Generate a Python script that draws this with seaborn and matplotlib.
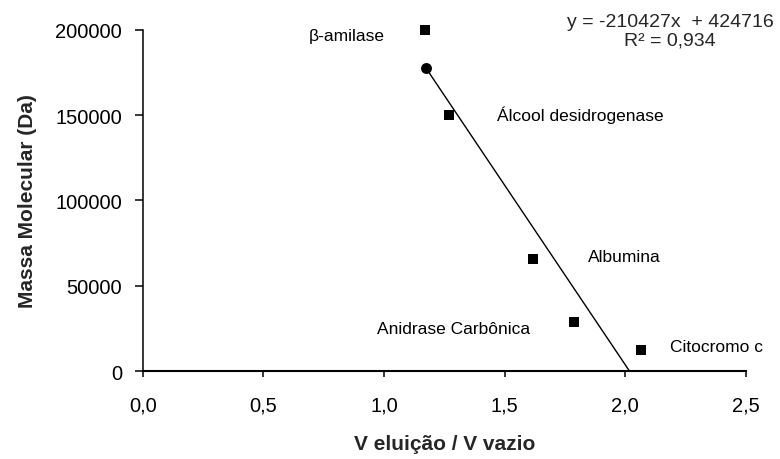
import numpy as np
import pandas as pd
import matplotlib
matplotlib.use("Agg")
import matplotlib.pyplot as plt
import seaborn as sns
from matplotlib.ticker import FuncFormatter, MultipleLocator

# Protein standards: relative elution volume vs. molecular mass
proteins = ["β-amilase", "Álcool desidrogenase", "Albumina",
            "Anidrase Carbônica", "Citocromo c"]
ve_vo = [1.171, 1.271, 1.620, 1.789, 2.068]
mass_da = [200000, 150000, 66000, 29000, 12400]

# Sample
sample_ve_vo = [1.175]

# Linear fit reported on the chart
slope = -210427
intercept = 424716
r_squared = "0,934"

# Label anchors (left edge, vertical centre) for each standard
label_x = [0.687, 1.469, 1.846, 0.973, 2.185]
label_y = [196500, 150700, 66900, 25200, 14700]

df = pd.DataFrame({"ve_vo": ve_vo, "mass": mass_da, "protein": proteins})
sample = pd.DataFrame({"ve_vo": sample_ve_vo,
                       "mass": [slope * v + intercept for v in sample_ve_vo]})

# Trendline spans the standards' x range (clipped at y = 0 by the axis)
fit_x = np.linspace(min(ve_vo), max(ve_vo), 200)
fit = pd.DataFrame({"ve_vo": fit_x, "mass": slope * fit_x + intercept})

sns.set_style("ticks")
plt.rcParams["font.family"] = ["Liberation Sans", "DejaVu Sans"]

fig = plt.figure(figsize=(7.8, 4.6), dpi=100)
ax = fig.add_axes([0.183, 0.191, 0.773, 0.742])

sns.lineplot(data=fit, x="ve_vo", y="mass", ax=ax, color="black",
             linewidth=1.0, clip_on=True)
sns.scatterplot(data=df, x="ve_vo", y="mass", ax=ax, marker="s", s=58,
                color="black", edgecolor="black", linewidth=0, clip_on=False)
sns.scatterplot(data=sample, x="ve_vo", y="mass", ax=ax, marker="o", s=62,
                color="black", edgecolor="black", linewidth=0, clip_on=False)

for name, lx, ly in zip(proteins, label_x, label_y):
    ax.text(lx, ly, name, fontsize=12.5, ha="left", va="center", color="black")

ax.text(0.859, 0.952, f"y = {slope}x  + {intercept}", transform=fig.transFigure,
        fontsize=14, ha="center", va="center")
ax.text(0.859, 0.911, f"R² = {r_squared}", transform=fig.transFigure,
        fontsize=14, ha="center", va="center")

ax.set_xlim(0, 2.5)
ax.set_ylim(0, 200000)
ax.xaxis.set_major_locator(MultipleLocator(0.5))
ax.yaxis.set_major_locator(MultipleLocator(50000))
ax.xaxis.set_major_formatter(FuncFormatter(lambda v, p: f"{v:.1f}".replace(".", ",")))
ax.yaxis.set_major_formatter(FuncFormatter(lambda v, p: f"{int(round(v))}"))

ax.set_xlabel("V eluição / V vazio", fontsize=15, fontweight="bold", labelpad=14)
ax.set_ylabel("Massa Molecular (Da)", fontsize=15, fontweight="bold", labelpad=13.5)

sns.despine(ax=ax)
for side in ("left", "bottom"):
    ax.spines[side].set_color("black")
ax.spines["left"].set_linewidth(1.1)
ax.spines["bottom"].set_linewidth(1.5)
ax.tick_params(axis="both", direction="out", width=1.1,
               colors="black", labelsize=14.5)
ax.tick_params(axis="x", length=4.5, pad=13)
ax.tick_params(axis="y", length=5.8, pad=9)

fig.savefig("out.png", dpi=100, facecolor="white")
